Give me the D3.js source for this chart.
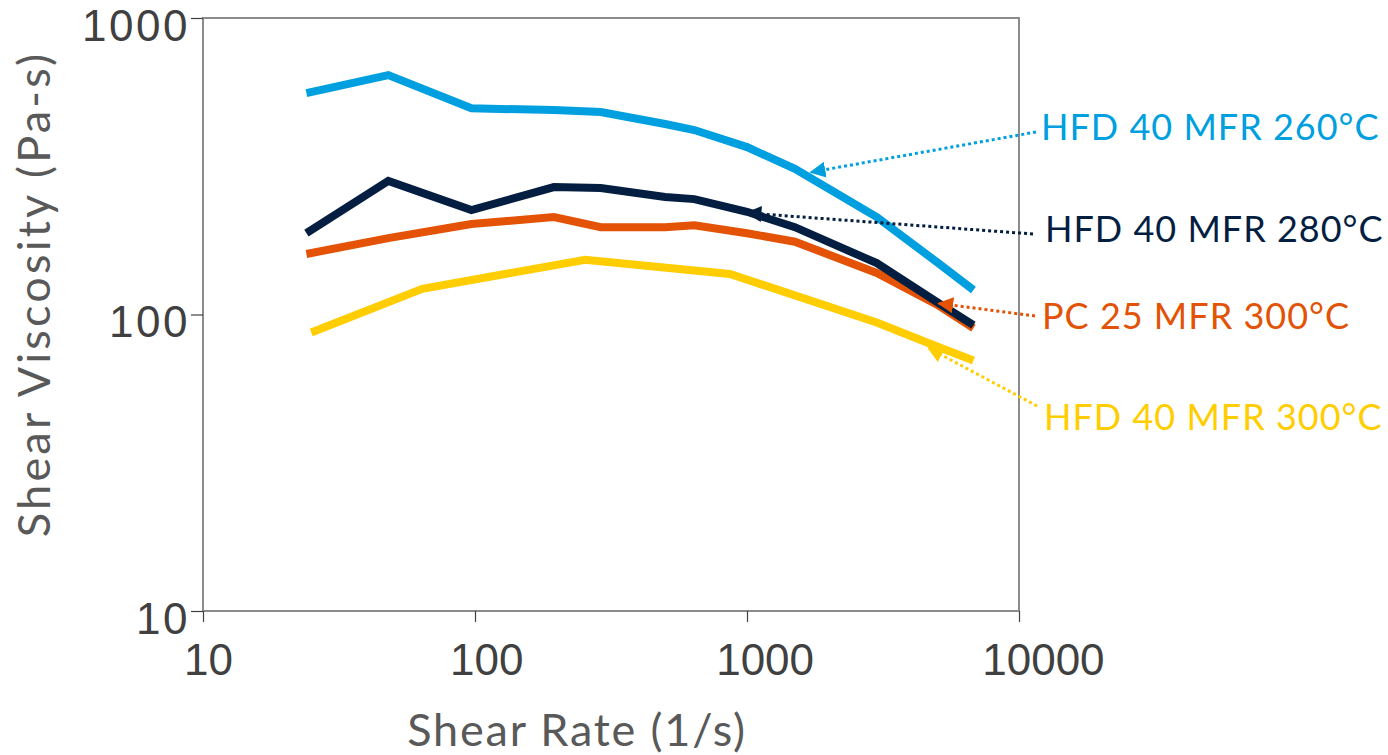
<!DOCTYPE html>
<html>
<head>
<meta charset="utf-8">
<script src="https://cdn.jsdelivr.net/npm/d3@7"></script>
<style>
  body { margin: 0; background: #fff; }
  svg { display: block; font-family: Lato, "Noto Sans", sans-serif; }
</style>
</head>
<body>
<div id="chart"></div>
<script>
// shear rate points (1/s) and viscosity per series (Pa-s)
const rate260 = [24, 48, 97, 195, 290, 500, 640, 1000, 1500, 3000, 5000, 6800];
const visc260 = [558, 642, 496, 489, 482, 439, 419, 367, 310, 213, 150, 121];

const rate280 = [24, 48, 97, 195, 290, 500, 640, 1000, 1500, 3000, 5000, 6800];
const visc280 = [188, 282, 225, 269, 267, 249, 245, 222, 197, 149, 110, 92];

const ratePC = [24, 48, 97, 195, 290, 500, 640, 1000, 1500, 3000, 5000, 6800];
const viscPC = [160, 181, 202, 213, 197, 197, 200, 188, 176, 138, 108, 90];

const rate300 = [25, 64, 254, 865, 3000, 5000, 6800];
const visc300 = [87, 122, 153, 137, 94, 78, 70];

const xTicks = [10, 100, 1000, 10000];
const yTicks = [10, 100, 1000];

const seriesNames = ['HFD 40 MFR 260°C', 'HFD 40 MFR 280°C', 'PC 25 MFR 300°C', 'HFD 40 MFR 300°C'];
const seriesColors = ['#009fdf', '#041e42', '#e35205', '#ffcd00'];
// where each callout arrow points (shear rate, viscosity)
const calloutRate = [1720, 1000, 5070, 4660];
const calloutVisc = [302, 220, 109, 77];

const width = 1388, height = 755;
const margin = { top: 18, right: 369, bottom: 144, left: 203 };

const svg = d3.select('#chart').append('svg')
    .attr('width', width)
    .attr('height', height);

const x = d3.scaleLog().domain([10, 10000]).range([margin.left, width - margin.right]);
const y = d3.scaleLog().domain([10, 1000]).range([height - margin.bottom, margin.top]);

const series = [
    { name: seriesNames[0], color: seriesColors[0], pts: rate260.map((r, i) => [r, visc260[i]]), label: [1041, 140], from: [1036, 132] },
    { name: seriesNames[1], color: seriesColors[1], pts: rate280.map((r, i) => [r, visc280[i]]), label: [1045, 242], from: [1033, 234] },
    { name: seriesNames[2], color: seriesColors[2], pts: ratePC.map((r, i) => [r, viscPC[i]]), label: [1042, 329], from: [1035, 316] },
    { name: seriesNames[3], color: seriesColors[3], pts: rate300.map((r, i) => [r, visc300[i]]), label: [1044, 430], from: [1037, 406] }
];

// frame
svg.append('rect')
    .attr('x', x(10))
    .attr('y', y(1000))
    .attr('width', x(10000) - x(10))
    .attr('height', y(10) - y(1000))
    .attr('fill', 'none')
    .attr('stroke', '#8c8c8c')
    .attr('stroke-width', 2);

const xAxis = svg.append('g')
    .attr('transform', `translate(0,${y(10)})`)
    .call(d3.axisBottom(x).tickValues(xTicks).tickSize(11).tickFormat(d3.format('d')));
xAxis.select('.domain').remove();
xAxis.selectAll('line').attr('stroke', '#404040').attr('stroke-width', 1.2);
xAxis.selectAll('text')
    .attr('fill', '#404040')
    .attr('y', 64)
    .attr('dy', 0)
    .attr('dx', (d, i) => 5 + 6.3 * i)
    .style('font-size', '44px');

const yAxis = svg.append('g')
    .attr('transform', `translate(${x(10)},0)`)
    .call(d3.axisLeft(y).tickValues(yTicks).tickSize(12).tickFormat(d3.format('d')));
yAxis.select('.domain').remove();
yAxis.selectAll('line').attr('stroke', '#404040').attr('stroke-width', 1.2);
yAxis.selectAll('text')
    .attr('fill', '#404040')
    .attr('x', -13)
    .attr('dy', '0.5em')
    .style('font-size', '44px')
    .style('letter-spacing', '2.5px');

svg.append('text')
    .attr('x', 577)
    .attr('y', 746)
    .attr('text-anchor', 'middle')
    .attr('fill', '#595959')
    .style('font-size', '45px')
    .style('letter-spacing', '1.8px')
    .text('Shear Rate (1/s)');

svg.append('text')
    .attr('transform', 'translate(50,294) rotate(-90)')
    .attr('text-anchor', 'middle')
    .attr('fill', '#595959')
    .style('font-size', '45px')
    .style('letter-spacing', '3.2px')
    .text('Shear Viscosity (Pa-s)');

const line = d3.line().x(d => x(d[0])).y(d => y(d[1]));

// yellow first, blue last
[3, 2, 1, 0].forEach(i => {
    const s = series[i];
    svg.append('path')
        .datum(s.pts)
        .attr('d', line)
        .attr('fill', 'none')
        .attr('stroke', s.color)
        .attr('stroke-width', 8)
        .attr('stroke-linejoin', 'miter')
        .attr('stroke-linecap', 'butt');
});

const defs = svg.append('defs');
series.forEach((s, i) => {
    defs.append('marker')
        .attr('id', 'arrow' + i)
        .attr('viewBox', '0 0 10 10')
        .attr('refX', 9)
        .attr('refY', 5)
        .attr('markerUnits', 'userSpaceOnUse')
        .attr('markerWidth', 16)
        .attr('markerHeight', 16)
        .attr('orient', 'auto')
        .append('path')
        .attr('d', 'M0,0L10,5L0,10Z')
        .attr('fill', s.color);
});

series.forEach((s, i) => {
    svg.append('line')
        .attr('x1', s.from[0])
        .attr('y1', s.from[1])
        .attr('x2', x(calloutRate[i]))
        .attr('y2', y(calloutVisc[i]))
        .attr('stroke', s.color)
        .attr('stroke-width', 3)
        .attr('stroke-dasharray', '3 3')
        .attr('marker-end', `url(#arrow${i})`);

    svg.append('text')
        .attr('x', s.label[0])
        .attr('y', s.label[1])
        .attr('fill', s.color)
        .style('font-size', '36px')
        .style('letter-spacing', '1px')
        .text(s.name);
});
</script>
</body>
</html>
